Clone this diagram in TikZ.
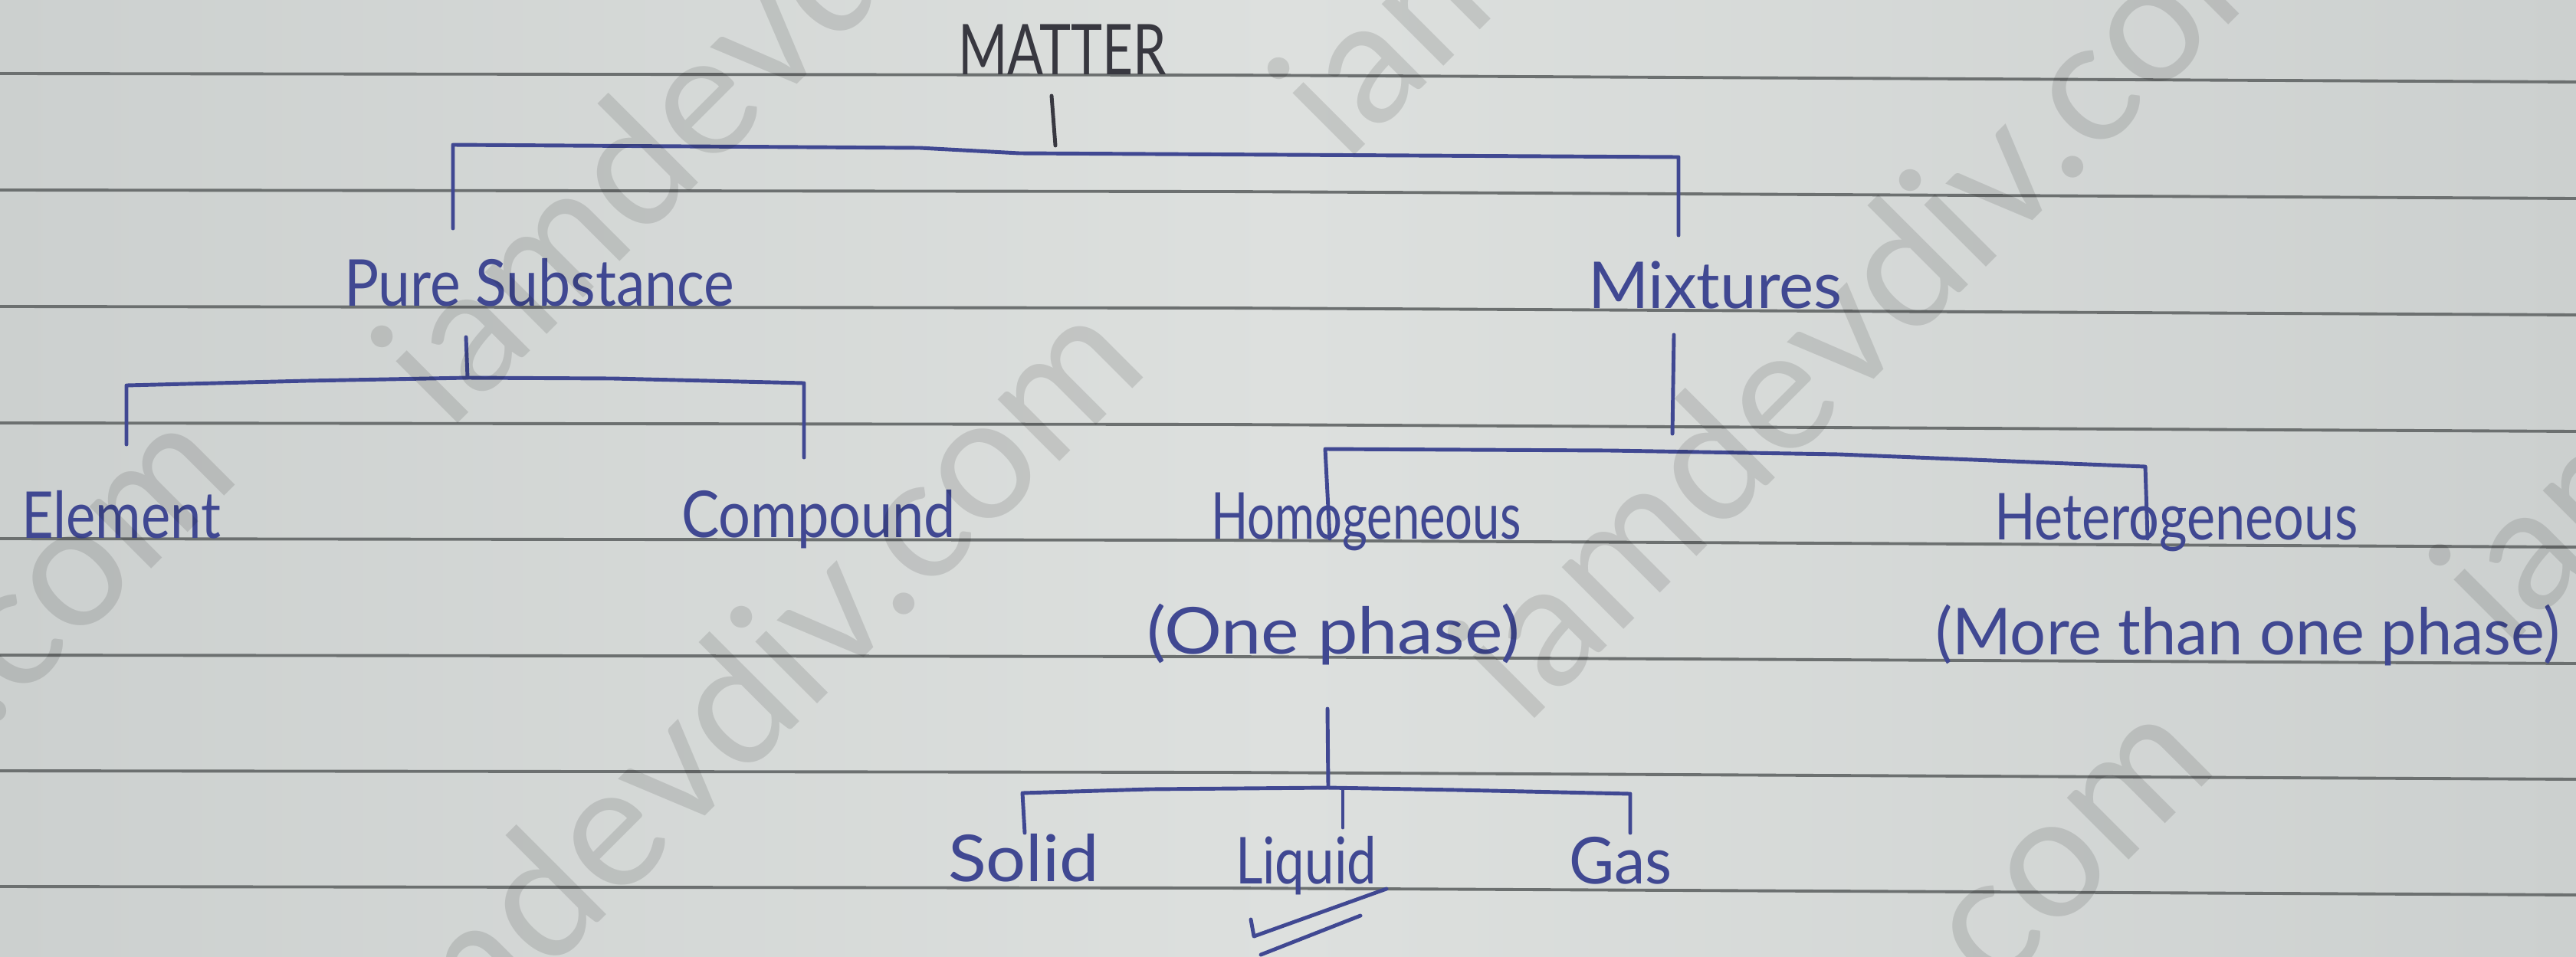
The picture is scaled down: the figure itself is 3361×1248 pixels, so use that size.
\documentclass[tikz,border=0pt]{standalone}
\usepackage{fontspec}
\setmainfont{Lato}
\usepackage{graphicx}

% paper, ruling and ink colours
\definecolor{paper}{RGB}{221,224,222}
\definecolor{paperedge}{RGB}{204,208,207}
\definecolor{rulegray}{RGB}{108,112,112}
\definecolor{ink}{RGB}{64,72,146}
\definecolor{pencil}{RGB}{56,56,64}

% squeeze a word to a given width, keeping its height
\newcommand{\fitw}[2]{\resizebox{#1}{\height}{#2}}

\tikzset{
  pen/.style={draw=ink, line width=1.4pt, line cap=round, line join=round},
  word/.style={anchor=base west, inner sep=0pt, outer sep=0pt, text=ink,
               font=\fontsize{24}{24}\selectfont},
  ruling/.style={draw=rulegray, line width=1.1pt},
  stamp/.style={anchor=base west, inner sep=0pt, rotate=45, text=black,
                text opacity=0.11, font=\fontsize{64}{64}\selectfont},
}

\begin{document}
\begin{tikzpicture}[x=0.01cm, y=-0.01cm]
  \useasboundingbox (0,0) rectangle (3361,1248);
  \begin{scope}
  \clip (0,0) rectangle (3361,1248);

  % sheet of ruled paper
  \shade[left color=paperedge, right color=paperedge, middle color=paper]
    (0,0) rectangle (3361,1248);
  \foreach \y in {96,248,400,552,703,855,1006,1157}
    \draw[ruling] (0,\y) -- (1600,\y+2) -- (3361,\y+11);

  % headings and leaves of the tree
  \node[word, text=pencil, font=\fontsize{26}{26}\selectfont] (matter) at (1250,97) {\fitw{2.72cm}{MATTER}};
  \node[word] (pure)   at (449,399)  {\fitw{5.09cm}{Pure Substance}};
  \node[word] (mix)    at (2072,402) {\fitw{3.31cm}{Mixtures}};
  \node[word] (elem)   at (28,702)   {\fitw{2.60cm}{Element}};
  \node[word] (comp)   at (889,701)  {\fitw{3.58cm}{Compound}};
  \node[word] (homo)   at (1580,703) {\fitw{4.04cm}{Homogeneous}};
  \node[word] (hetero) at (2602,704) {\fitw{4.74cm}{Heterogeneous}};
  \node[word] (one)    at (1496,853) {\fitw{4.87cm}{(One phase)}};
  \node[word] (more)   at (2525,854) {\fitw{8.15cm}{(More than one phase)}};
  \node[word] (solid)  at (1237,1150) {\fitw{1.97cm}{Solid}};
  \node[word] (liquid) at (1612,1153) {\fitw{1.84cm}{Liquid}};
  \node[word] (gas)    at (2047,1153) {\fitw{1.34cm}{Gas}};

  % bracket points
  \coordinate (mt) at (1372,125);  \coordinate (mb) at (1377,190);
  \coordinate (ml) at (591,298);   \coordinate (mlt) at (591,189);
  \coordinate (mr) at (2190,307);  \coordinate (mrt) at (2190,205);

  \coordinate (pt) at (608,440);   \coordinate (pb) at (610,493);
  \coordinate (pl) at (165,580);   \coordinate (plt) at (165,503);
  \coordinate (pr) at (1049,597);  \coordinate (prt) at (1049,500);

  \coordinate (xt) at (2184,437);  \coordinate (xb) at (2182,566);
  \coordinate (xl) at (1735,703);  \coordinate (xlt) at (1729,586);
  \coordinate (xr) at (2802,703);  \coordinate (xrt) at (2799,609);

  \coordinate (ot) at (1732,925);  \coordinate (ob) at (1733,1028);
  \coordinate (ol) at (1337,1087); \coordinate (olt) at (1334,1035);
  \coordinate (oc) at (1752,1080); \coordinate (oct) at (1752,1030);
  \coordinate (or) at (2127,1087); \coordinate (ort) at (2127,1036);

  % MATTER -> Pure Substance / Mixtures
  \draw[pen, draw=pencil] (mt) -- (mb);
  \draw[pen] (ml) -- (mlt) -- (1200,193) -- (1330,200) -- (mrt) -- (mr);

  % Pure Substance -> Element / Compound
  \draw[pen] (pt) -- (pb);
  \draw[pen] (pl) -- (plt) -- (400,497) -- (pb) -- (800,494) -- (prt) -- (pr);

  % Mixtures -> Homogeneous / Heterogeneous
  \draw[pen] (xt) -- (xb);
  \draw[pen] (xl) -- (xlt) -- (2100,588) -- (2400,593) -- (xrt) -- (xr);

  % One phase -> Solid / Liquid / Gas
  \draw[pen] (ot) -- (ob);
  \draw[pen] (ol) -- (olt) -- (1500,1030) -- (ob) -- (1900,1031) -- (ort) -- (or);
  \draw[pen] (oct) -- (oc);

  % tick under Liquid
  \coordinate (k1) at (1632,1200); \coordinate (k2) at (1636,1222);
  \coordinate (k3) at (1809,1160); \coordinate (k4) at (1645,1246);
  \coordinate (k5) at (1775,1195);
  \draw[pen] (k1) -- (k2) -- (k3);
  \draw[pen] (k4) -- (k5);

  % faint site stamp across the sheet
  \foreach \sx/\sy in {585/565, 465/1520, 1990/950, 1860/2040, 3270/850,
                       1755/215, -720/1660}
    \node[stamp] at (\sx,\sy) {iamdevdiv.com};
  \end{scope}
\end{tikzpicture}
\end{document}
